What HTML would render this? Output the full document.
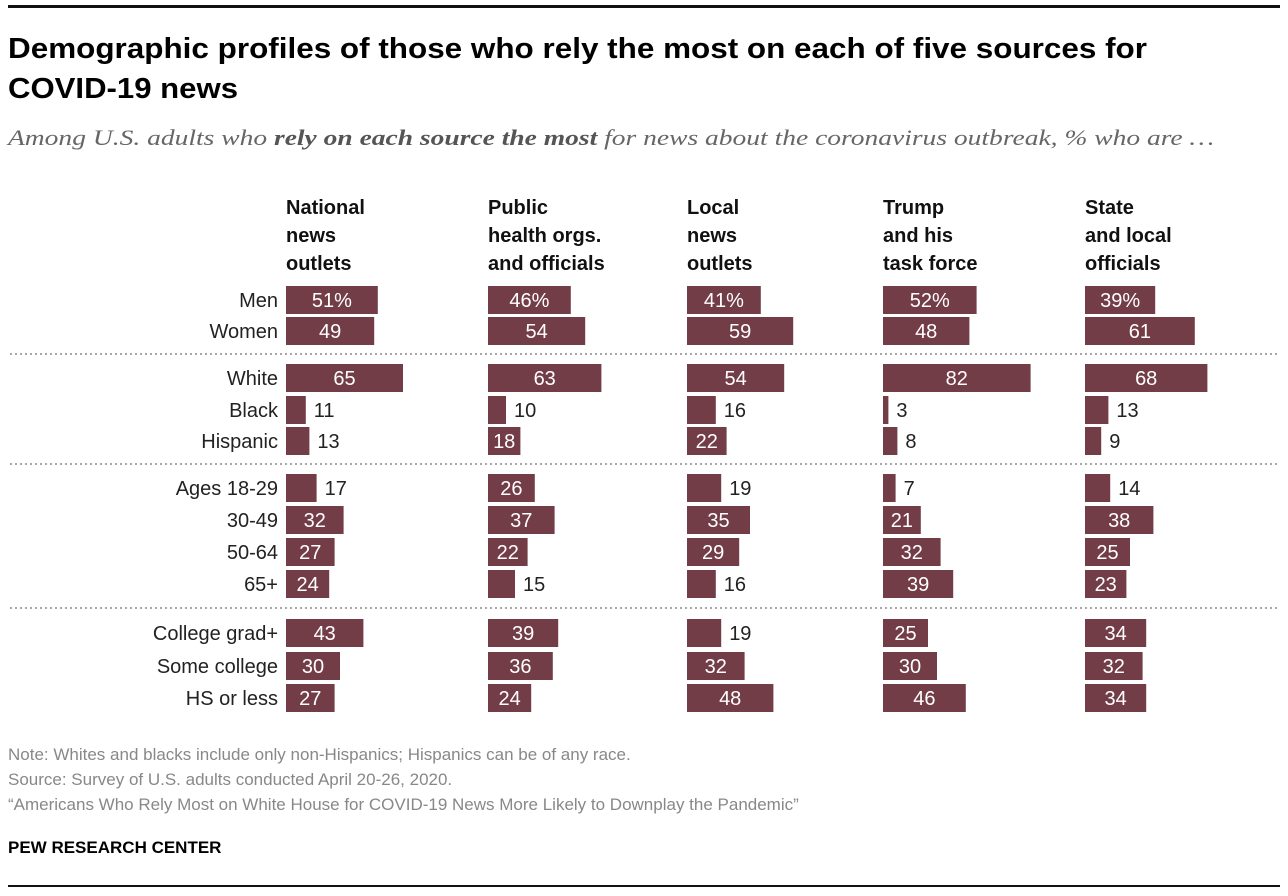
<!DOCTYPE html>
<html><head><meta charset="utf-8"><style>
body{margin:0;background:#fff;}
svg{display:block;font-family:"Liberation Sans",sans-serif;}
</style></head><body>
<svg id="chart" width="1288" height="896" viewBox="0 0 1288 896">
<rect x="8" y="5" width="1272" height="3" fill="#111"/>
<text x="8" y="58" font-size="29" font-weight="bold" fill="#000" textLength="1139" lengthAdjust="spacingAndGlyphs">Demographic profiles of those who rely the most on each of five sources for</text>
<text x="8" y="98" font-size="29" font-weight="bold" fill="#000" textLength="230" lengthAdjust="spacingAndGlyphs">COVID-19 news</text>
<text x="8" y="145" font-size="22" font-style="italic" fill="#666" font-family="Liberation Serif,serif" textLength="1206" lengthAdjust="spacingAndGlyphs">Among U.S. adults who <tspan font-weight="bold" fill="#555">rely on each source the most</tspan> for news about the coronavirus outbreak, % who are …</text>
<g id="plot"></g>
<text x="8" y="760" font-size="17" fill="#888">Note: Whites and blacks include only non-Hispanics; Hispanics can be of any race.</text>
<text x="8" y="785" font-size="17" fill="#888">Source: Survey of U.S. adults conducted April 20-26, 2020.</text>
<text x="8" y="810" font-size="17" fill="#888">“Americans Who Rely Most on White House for COVID-19 News More Likely to Downplay the Pandemic”</text>
<text x="8" y="853" font-size="17" font-weight="bold" fill="#000">PEW RESEARCH CENTER</text>
<rect x="8" y="885" width="1272" height="2" fill="#111"/>
</svg>
<script>
const rowLabels=["Men","Women","White","Black","Hispanic","Ages 18-29","30-49","50-64","65+","College grad+","Some college","HS or less"];
const columns=[["National","news","outlets"],["Public","health orgs.","and officials"],["Local","news","outlets"],["Trump","and his","task force"],["State","and local","officials"]];
const national=[51,49,65,11,13,17,32,27,24,43,30,27];
const publicHealth=[46,54,63,10,18,26,37,22,15,39,36,24];
const localNews=[41,59,54,16,22,19,35,29,16,19,32,48];
const trump=[52,48,82,3,8,7,21,32,39,25,30,46];
const stateLocal=[39,61,68,13,9,14,38,25,23,34,32,34];
const series=[national,publicHealth,localNews,trump,stateLocal];
const colX=[286,488,687,883,1085];
const rowY=[300,331,378,410,441,488,520,552,584,633,666,698];
const sepY=[354,464,608];
const scale=v=>v*1.8;
const NS="http://www.w3.org/2000/svg";
const g=document.getElementById('plot');
function mk(t,a,txt){const e=document.createElementNS(NS,t);for(const k in a)e.setAttribute(k,a[k]);if(txt!==undefined)e.textContent=txt;g.appendChild(e);return e;}
columns.forEach((c,ci)=>{c.forEach((line,li)=>{
 const t=mk('text',{x:colX[ci],y:214+li*28,'font-size':20,'font-weight':'bold',fill:'#111'},line);
 
 
});});
rowLabels.forEach((l,ri)=>{
 const t=mk('text',{x:278,y:rowY[ri]+7,'font-size':20,fill:'#222','text-anchor':'end'},l);
 
 
});
sepY.forEach(y=>{
 const ln=mk('line',{x1:10,x2:1278,y1:y,y2:y,stroke:'#888','stroke-width':1.5,'stroke-dasharray':'2,3'});
 
 
});
series.forEach((vals,ci)=>{vals.forEach((v,ri)=>{
 const w=scale(v),x=colX[ci],y=rowY[ri];
 const r=mk('rect',{x:x,y:y-14,width:w,height:28,fill:'#733d47'});
 
 
 const lbl=(ri===0?v+'%':''+v);
 const inside = v>=20 || (ci===1 && ri===4);
 let t;
 if(inside) t=mk('text',{x:x+w/2,y:y+7,'font-size':20,fill:'#fff','text-anchor':'middle'},lbl);
 else t=mk('text',{x:x+w+8,y:y+7,'font-size':20,fill:'#222'},lbl);
 
 
});});
</script>
</body></html>
